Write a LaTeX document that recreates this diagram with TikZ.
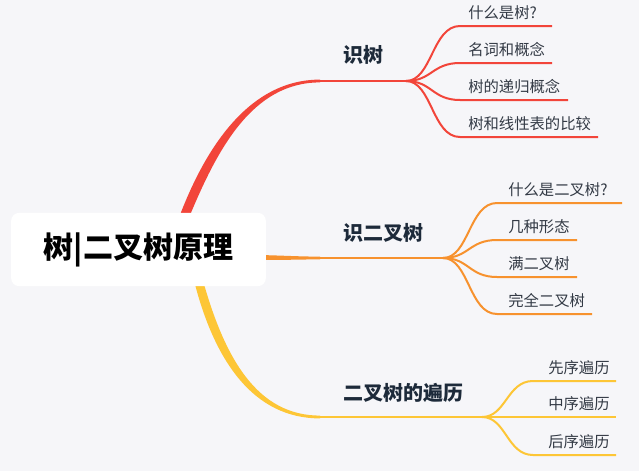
\documentclass[tikz,border=0pt]{standalone}
\usepackage{fontspec}
\setmainfont{Noto Sans CJK SC}
\usetikzlibrary{calc,backgrounds}
\definecolor{PageGray}{HTML}{F6F6F9}
\definecolor{TreeRed}{HTML}{F2453A}
\definecolor{TreeOrange}{HTML}{F7922E}
\definecolor{TreeYellow}{HTML}{FDC636}
\definecolor{InkNavy}{HTML}{1D2A3A}
\definecolor{InkGray}{HTML}{333A45}

\begin{document}
\begin{tikzpicture}[
    x=0.75pt, y=-0.75pt,
    root/.style={fill=white, rounded corners=6pt, minimum width=191pt, minimum height=55pt, inner sep=0pt, font=\fontsize{22.5}{26}\selectfont\bfseries, text=black},
    topic/.style={anchor=west, inner sep=0pt, font=\fontsize{15}{18}\selectfont\bfseries, text=InkNavy},
    leaf/.style={anchor=west, inner sep=0pt, font=\fontsize{11.5}{14}\selectfont, text=InkGray},
    limb/.style={line width=1.9pt},
    twig/.style={line width=1.5pt}
]
\useasboundingbox (0,0) rectangle (639,471);
\node[root] (root) at (138.5,249.5) {树|二叉树原理};

% 主干：从中心节点后面伸出，逐渐变细
\begin{scope}[on background layer]
\fill[PageGray] (0,0) rectangle (639,471);
\fill[TreeRed] ($(root.north)+(40.5,5)$) .. controls (206,146) and (250,79.6) .. (320,79.6) -- (320,82.4) .. controls (252,82.4) and (217,150) .. ($(root.north)+(50.5,5)$) -- cycle;
\fill[TreeOrange] ($(root.east)+(-6,5.5)$) .. controls (290,255.8) and (300,256.6) .. (320,256.6) -- (320,259.4) .. controls (300,259.4) and (290,260) .. ($(root.east)+(-6,10.5)$) -- cycle;
\fill[TreeYellow] ($(root.south)+(56,-4)$) .. controls (215,362) and (254,418.4) .. (320,418.4) -- (320,415.6) .. controls (257,415.6) and (225,358) .. ($(root.south)+(65,-4)$) -- cycle;
\end{scope}

% 三个主题
\node[topic] (t1) at (343,55) {识树};
\node[topic] (t2) at (343,233) {识二叉树};
\node[topic] (t3) at (343,393) {二叉树的遍历};

\coordinate (s1) at (320,81);  \coordinate (j1) at (406,81);
\coordinate (s2) at (320,258); \coordinate (j2) at (443,258);
\coordinate (s3) at (320,417); \coordinate (j3) at (482,417);
\draw[limb, TreeRed] (s1) -- (j1);
\draw[limb, TreeOrange] (s2) -- (j2);
\draw[limb, TreeYellow] (s3) -- (j3);

% 子节点
\foreach \y/\e/\s [count=\i] in {26/552/什么是树?, 63/552/名词和概念, 100/568/树的递归概念, 137/598/树和线性表的比较}{
    \coordinate (r\i) at (460,\y);
    \coordinate (re\i) at (\e,\y);
    \node[leaf] (rt\i) at (468,\y-13.5) {\s};
    \draw[twig, TreeRed] (j1) .. controls +(26,0) and +(-28,0) .. (r\i) -- (re\i);
}
\foreach \y/\e/\s [count=\i] in {203/622/什么是二叉树?, 240/577/几种形态, 277/577/满二叉树, 314/592/完全二叉树}{
    \coordinate (o\i) at (497,\y);
    \coordinate (oe\i) at (\e,\y);
    \node[leaf] (ot\i) at (508,\y-13.5) {\s};
    \draw[twig, TreeOrange] (j2) .. controls +(26,0) and +(-28,0) .. (o\i) -- (oe\i);
}
\foreach \y/\e/\s [count=\i] in {381/616/先序遍历, 417/616/中序遍历, 455/616/后序遍历}{
    \coordinate (y\i) at (533,\y);
    \coordinate (ye\i) at (\e,\y);
    \node[leaf] (yt\i) at (548,\y-13.5) {\s};
    \draw[twig, TreeYellow] (j3) .. controls +(24,0) and +(-26,0) .. (y\i) -- (ye\i);
}
\end{tikzpicture}
\end{document}
